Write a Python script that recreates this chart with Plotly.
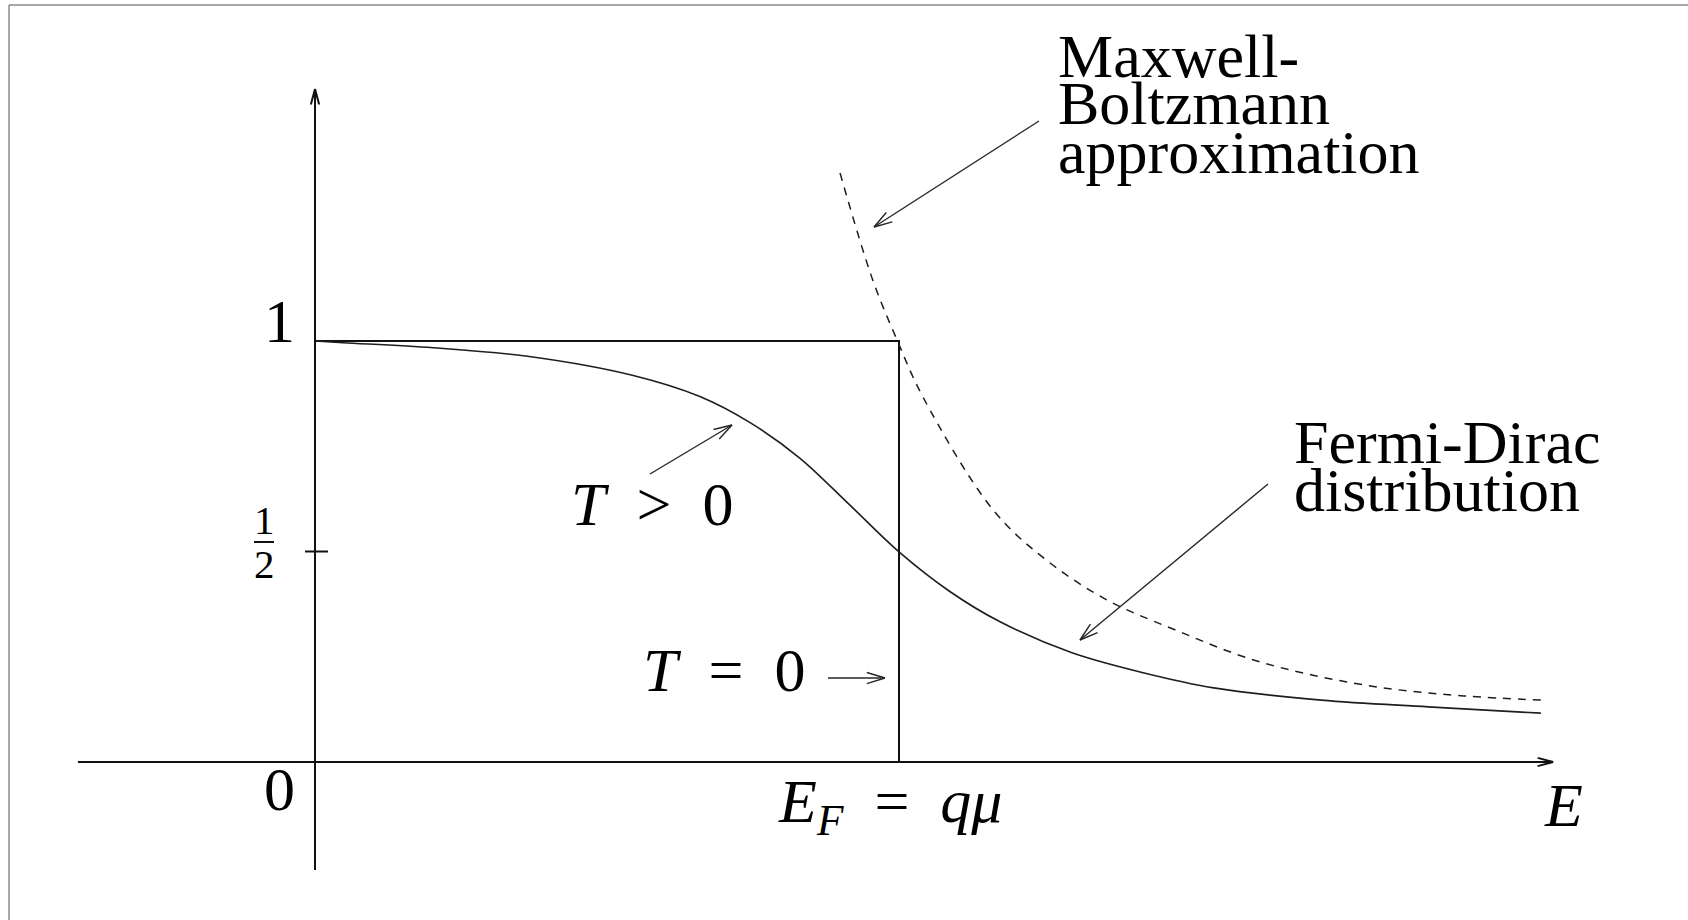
import math
import plotly.graph_objects as go

# Energy axis in units of the Fermi energy (E_F = 1); occupation probability f(E)
E_F = 1.0

# T = 0 step distribution
step_E = [0.0, E_F, E_F]
step_f = [1.0, 1.0, 0.0]

# Fermi-Dirac distribution at T > 0
fd_E = [0.000, 0.048, 0.202, 0.373, 0.545, 0.659, 0.745, 0.830, 0.916, 1.000,
        1.087, 1.173, 1.295, 1.418, 1.539, 1.723, 1.906, 2.099]
fd_f = [1.000, 0.996, 0.984, 0.962, 0.918, 0.868, 0.806, 0.722, 0.610, 0.499,
        0.405, 0.333, 0.260, 0.212, 0.176, 0.147, 0.131, 0.116]

# Maxwell-Boltzmann approximation (high-energy tail)
mb_E = [0.899, 0.955, 0.998, 1.041, 1.161, 1.252, 1.356, 1.478, 1.601, 1.723,
        1.846, 1.967, 2.099]
mb_f = [1.399, 1.145, 0.998, 0.867, 0.599, 0.480, 0.385, 0.311, 0.245, 0.202,
        0.173, 0.157, 0.147]

# y tick shown on the vertical axis
half_tick = 0.5

W, H = 1688, 920
X_RANGE = [-0.5394, 2.3510]
Y_RANGE = [-0.3753, 1.8100]

FONT = "Liberation Serif"
FS = 62
INK = "#111111"
ARROW_INK = "#262626"
SP = "\u2002"  # wider math spacing around relations


def to_px(x, y):
    px = (x - X_RANGE[0]) / (X_RANGE[1] - X_RANGE[0]) * W
    py = (Y_RANGE[1] - y) / (Y_RANGE[1] - Y_RANGE[0]) * H
    return px, py


def to_data(px, py):
    x = X_RANGE[0] + px / W * (X_RANGE[1] - X_RANGE[0])
    y = Y_RANGE[1] - py / H * (Y_RANGE[1] - Y_RANGE[0])
    return x, y


def seg(x0, y0, x1, y1, color, width):
    return dict(type="line", xref="x", yref="y", x0=x0, y0=y0, x1=x1, y1=y1,
                line=dict(color=color, width=width), layer="above")


def arrow(tail, tip, color=ARROW_INK, width=1.4, head_len=19, half_angle=17):
    """Straight arrow with an open, narrow head drawn as two barbs."""
    shapes = [seg(tail[0], tail[1], tip[0], tip[1], color, width)]
    tx, ty = to_px(*tail)
    hx, hy = to_px(*tip)
    ang = math.atan2(hy - ty, hx - tx)
    for s in (1, -1):
        a = ang + math.pi + s * math.radians(half_angle)
        bx, by = to_data(hx + head_len * math.cos(a), hy + head_len * math.sin(a))
        shapes.append(seg(tip[0], tip[1], bx, by, color, width))
    return shapes


fig = go.Figure()

fig.add_trace(go.Scatter(x=step_E, y=step_f, mode="lines",
                         line=dict(color=INK, width=2), hoverinfo="skip"))
fig.add_trace(go.Scatter(x=fd_E, y=fd_f, mode="lines", line_shape="spline",
                         line=dict(color="#1e1e1e", width=1.6), hoverinfo="skip"))
fig.add_trace(go.Scatter(x=mb_E, y=mb_f, mode="lines", line_shape="spline",
                         line=dict(color="#1e1e1e", width=1.5, dash="8px,7px"),
                         hoverinfo="skip"))

shapes = []
# coordinate axes with arrow heads
shapes += arrow((-0.406, 0.0), (2.120, 0.0), color=INK, width=2, head_len=16, half_angle=15)
shapes += arrow((0.0, -0.2565), (0.0, 1.5986), color=INK, width=2, head_len=16, half_angle=15)
# tick at 1/2
shapes.append(seg(-0.0171, half_tick, 0.0223, half_tick, INK, 2))
# fraction bar of the 1/2 label
shapes.append(seg(-0.1045, half_tick + 0.0226, -0.0702, half_tick + 0.0226, INK, 2))
# pointer arrows
shapes += arrow((1.2397, 1.5226), (0.9572, 1.2708))   # Maxwell-Boltzmann
shapes += arrow((0.5736, 0.6841), (0.7140, 0.8005))   # T > 0
shapes += arrow((0.8784, 0.1995), (0.9760, 0.1995))   # T = 0
shapes += arrow((1.6318, 0.6603), (1.3099, 0.2898))   # Fermi-Dirac
# page frame
fx, fy = 9 / W, 1 - 5 / H
shapes.append(dict(type="line", xref="paper", yref="paper", x0=fx, y0=0, x1=fx, y1=fy,
                   line=dict(color="#8a8a8a", width=1.5)))
shapes.append(dict(type="line", xref="paper", yref="paper", x0=fx, y0=fy, x1=1, y1=fy,
                   line=dict(color="#8a8a8a", width=1.5)))


def label(text, x, y, xanchor="center", yanchor="middle", size=FS):
    return dict(text=text, x=x, y=y, xref="x", yref="y", showarrow=False,
                xanchor=xanchor, yanchor=yanchor,
                font=dict(family=FONT, size=size, color="#000000"))


annotations = [
    label("1", -0.0308, 1.0487, xanchor="right"),
    label("0", -0.0308, -0.0653, xanchor="right"),
    label("1", -0.0873, half_tick + 0.0748, size=41),
    label("2", -0.0873, half_tick - 0.0297, size=41),
    label(f"<i>T</i>{SP}&gt;{SP}0", 0.577, 0.614),
    label(f"<i>T</i>{SP}={SP}0", 0.701, 0.2197),
    label(f"<i>E</i><sub><i>F</i></sub>{SP}={SP}<i>qμ</i>", 0.9854, -0.104),
    label("<i>E</i>", 2.137, -0.103),
    label("Maxwell-", 1.2688, 1.678, xanchor="left"),
    label("Boltzmann", 1.2688, 1.5665, xanchor="left"),
    label("approximation", 1.2688, 1.450, xanchor="left"),
    label("Fermi-Dirac", 1.673, 0.759, xanchor="left"),
    label("distribution", 1.673, 0.645, xanchor="left"),
]

fig.update_layout(
    width=W, height=H,
    margin=dict(l=0, r=0, t=0, b=0),
    paper_bgcolor="white", plot_bgcolor="white",
    showlegend=False,
    xaxis=dict(range=X_RANGE, visible=False, fixedrange=True),
    yaxis=dict(range=Y_RANGE, visible=False, fixedrange=True),
    shapes=shapes,
    annotations=annotations,
)

fig.write_html("out.html")
